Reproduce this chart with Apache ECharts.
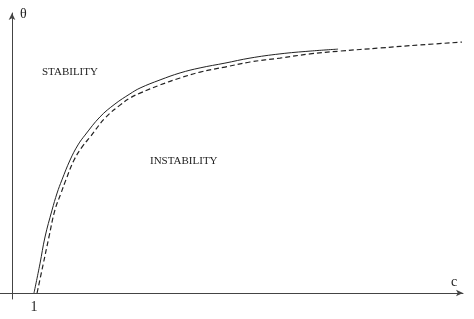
<!DOCTYPE html>
<html>
<head>
<meta charset="utf-8">
<script src="https://cdn.jsdelivr.net/npm/echarts@6/dist/echarts.min.js"></script>
<style>html,body{margin:0;padding:0;background:#fff;}#c{width:474px;height:319px;}</style>
</head>
<body>
<div id="c"></div>
<script>
var solidC = [1.0, 1.27, 1.5, 1.82, 2.05, 2.27, 2.64, 3.0, 3.32, 4.0, 4.68, 5.36, 5.82, 6.73, 7.64, 8.55, 9.68, 10.82, 12.18, 13.55, 14.82];
var solidTheta = [0.0, 0.104, 0.2, 0.296, 0.357, 0.404, 0.475, 0.529, 0.564, 0.629, 0.675, 0.711, 0.732, 0.761, 0.786, 0.804, 0.821, 0.839, 0.854, 0.864, 0.871];
var dashedC = [1.14, 1.41, 1.68, 1.95, 2.23, 2.45, 2.82, 3.18, 3.55, 4.23, 4.91, 5.36, 5.82, 6.73, 7.64, 8.55, 9.68, 10.82, 12.18, 13.55, 14.91, 16.73, 18.55, 20.45];
var dashedTheta = [0.0, 0.1, 0.2, 0.296, 0.357, 0.404, 0.475, 0.521, 0.557, 0.625, 0.671, 0.696, 0.714, 0.743, 0.768, 0.789, 0.807, 0.825, 0.839, 0.854, 0.864, 0.875, 0.886, 0.896];
var tickValues = [1];
var tickLabels = ['1'];

function pairs(xs, ys) { return xs.map(function (x, i) { return [x, ys[i]]; }); }

var chart = echarts.init(document.getElementById('c'), null, {renderer: 'canvas'});
chart.setOption({
  animation: false,
  backgroundColor: '#fff',
  grid: {left: 0, right: 11, top: 13, bottom: 20, containLabel: false},
  xAxis: {
    type: 'value', min: -12 / 22, max: 20.5,
    splitLine: {show: false},
    axisTick: {show: false},
    axisLine: {show: true, onZero: true, lineStyle: {color: '#444', width: 1}, symbol: ['none', 'arrow'], symbolSize: [5, 7]},
    axisLabel: {
      show: true, customValues: tickValues, margin: 1,
      formatter: function (v) { var i = tickValues.indexOf(v); return i >= 0 ? tickLabels[i] : ''; },
      fontFamily: 'Liberation Serif', fontSize: 14, color: '#222'
    }
  },
  yAxis: {
    type: 'value', min: -6 / 280, max: 1,
    splitLine: {show: false},
    axisTick: {show: false},
    axisLabel: {show: false},
    axisLine: {show: true, onZero: true, lineStyle: {color: '#444', width: 1}, symbol: ['none', 'arrow'], symbolSize: [5, 7]}
  },
  graphic: [
    {type: 'text', left: 20, top: 7, style: {text: 'θ', font: '14px "Liberation Serif"', fill: '#222'}},
    {type: 'text', left: 451, top: 275, style: {text: 'c', font: '14px "Liberation Serif"', fill: '#222'}},
    {type: 'text', left: 42, top: 67, style: {text: 'STABILITY', font: '11px "Liberation Serif"', fill: '#222'}},
    {type: 'text', left: 150, top: 156, style: {text: 'INSTABILITY', font: '11px "Liberation Serif"', fill: '#222'}}
  ],
  series: [
    {type: 'line', data: pairs(solidC, solidTheta), smooth: 0.4, showSymbol: false, symbol: 'none',
     lineStyle: {color: '#222', width: 1, type: 'solid'}},
    {type: 'line', data: pairs(dashedC, dashedTheta), smooth: 0.4, showSymbol: false, symbol: 'none',
     lineStyle: {color: '#222', width: 1.2, type: [5, 3]}}
  ]
});
</script>
</body>
</html>
